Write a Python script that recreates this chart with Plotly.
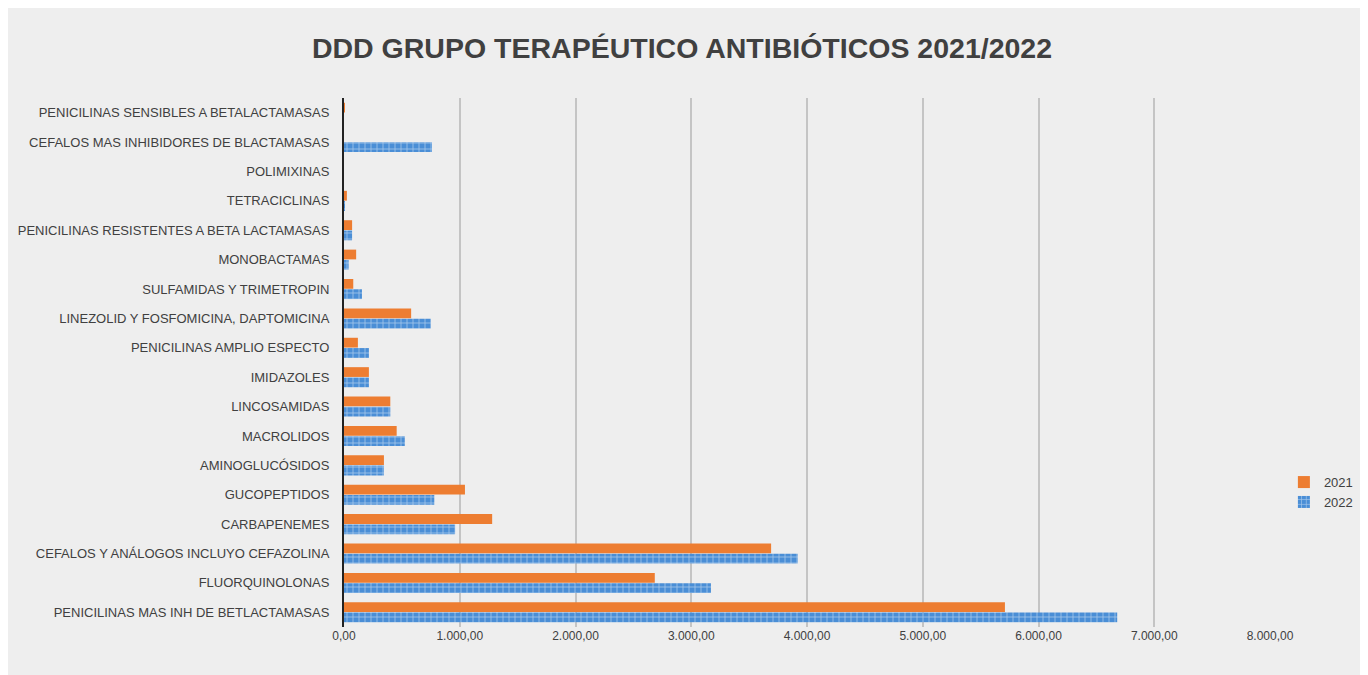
import plotly.graph_objects as go

categories = [
    "PENICILINAS MAS INH DE BETLACTAMASAS",
    "FLUORQUINOLONAS",
    "CEFALOS Y ANÁLOGOS INCLUYO CEFAZOLINA",
    "CARBAPENEMES",
    "GUCOPEPTIDOS",
    "AMINOGLUCÓSIDOS",
    "MACROLIDOS",
    "LINCOSAMIDAS",
    "IMIDAZOLES",
    "PENICILINAS AMPLIO ESPECTO",
    "LINEZOLID Y FOSFOMICINA, DAPTOMICINA",
    "SULFAMIDAS Y TRIMETROPIN",
    "MONOBACTAMAS",
    "PENICILINAS RESISTENTES A BETA LACTAMASAS",
    "TETRACICLINAS",
    "POLIMIXINAS",
    "CEFALOS MAS INHIBIDORES DE BLACTAMASAS",
    "PENICILINAS SENSIBLES A BETALACTAMASAS",
]
values_2021 = [5710, 2685, 3690, 1280, 1045, 345, 455, 400, 215, 120, 580, 80, 105, 70, 25, 0, 0, 5]
values_2022 = [6680, 3170, 3920, 960, 780, 345, 525, 400, 215, 215, 750, 155, 40, 70, 5, 0, 760, 0]
x_ticks = [0, 1000, 2000, 3000, 4000, 5000, 6000, 7000, 8000]

fig = go.Figure()
fig.add_trace(go.Bar(
    y=categories, x=values_2022, name="2022", orientation="h", legendrank=2,
    marker=dict(color="#5b9bd5", line=dict(width=0),
                pattern=dict(shape="+", fgcolor="#ffffff", bgcolor="#4a8ed6", size=6, solidity=0.25)),
))
fig.add_trace(go.Bar(
    y=categories, x=values_2021, name="2021", orientation="h", legendrank=1,
    marker=dict(color="#ed7d31", line=dict(width=0)),
))

label_font = "Liberation Sans, Arial, sans-serif"
fig.update_layout(
    width=1368, height=675,
    paper_bgcolor="#eeeeee", plot_bgcolor="rgba(0,0,0,0)",
    separators=",.",
    title=dict(text="<b>DDD GRUPO TERAPÉUTICO ANTIBIÓTICOS 2021/2022</b>",
               x=0.4927, xanchor="center", y=0.94, yanchor="middle",
               font=dict(family=label_font, size=28.5, color="#404040")),
    margin=dict(l=336, r=106, t=90, b=56, autoexpand=False),
    barmode="group", bargap=0.3, bargroupgap=0.05,
    font=dict(family=label_font, size=13, color="#404040"),
    legend=dict(x=1.015, y=0.255, xanchor="left", yanchor="middle",
                traceorder="normal",
                font=dict(size=13, color="#404040"),
                bgcolor="rgba(0,0,0,0)", itemwidth=30),
    showlegend=True,
)
fig.update_xaxes(range=[0, 8000], tickvals=x_ticks, tickformat=",.2f",
                 showgrid=True, gridcolor="#c4c4c4", gridwidth=1.5,
                 zeroline=False, showline=False, ticks="",
                 tickfont=dict(size=12, color="#404040"))
fig.update_yaxes(showgrid=False, showline=True, linecolor="#222222", linewidth=2,
                 ticks="", ticklabelstandoff=10, automargin=False,
                 tickfont=dict(size=13, color="#404040"))

fig.write_html("out.html")
